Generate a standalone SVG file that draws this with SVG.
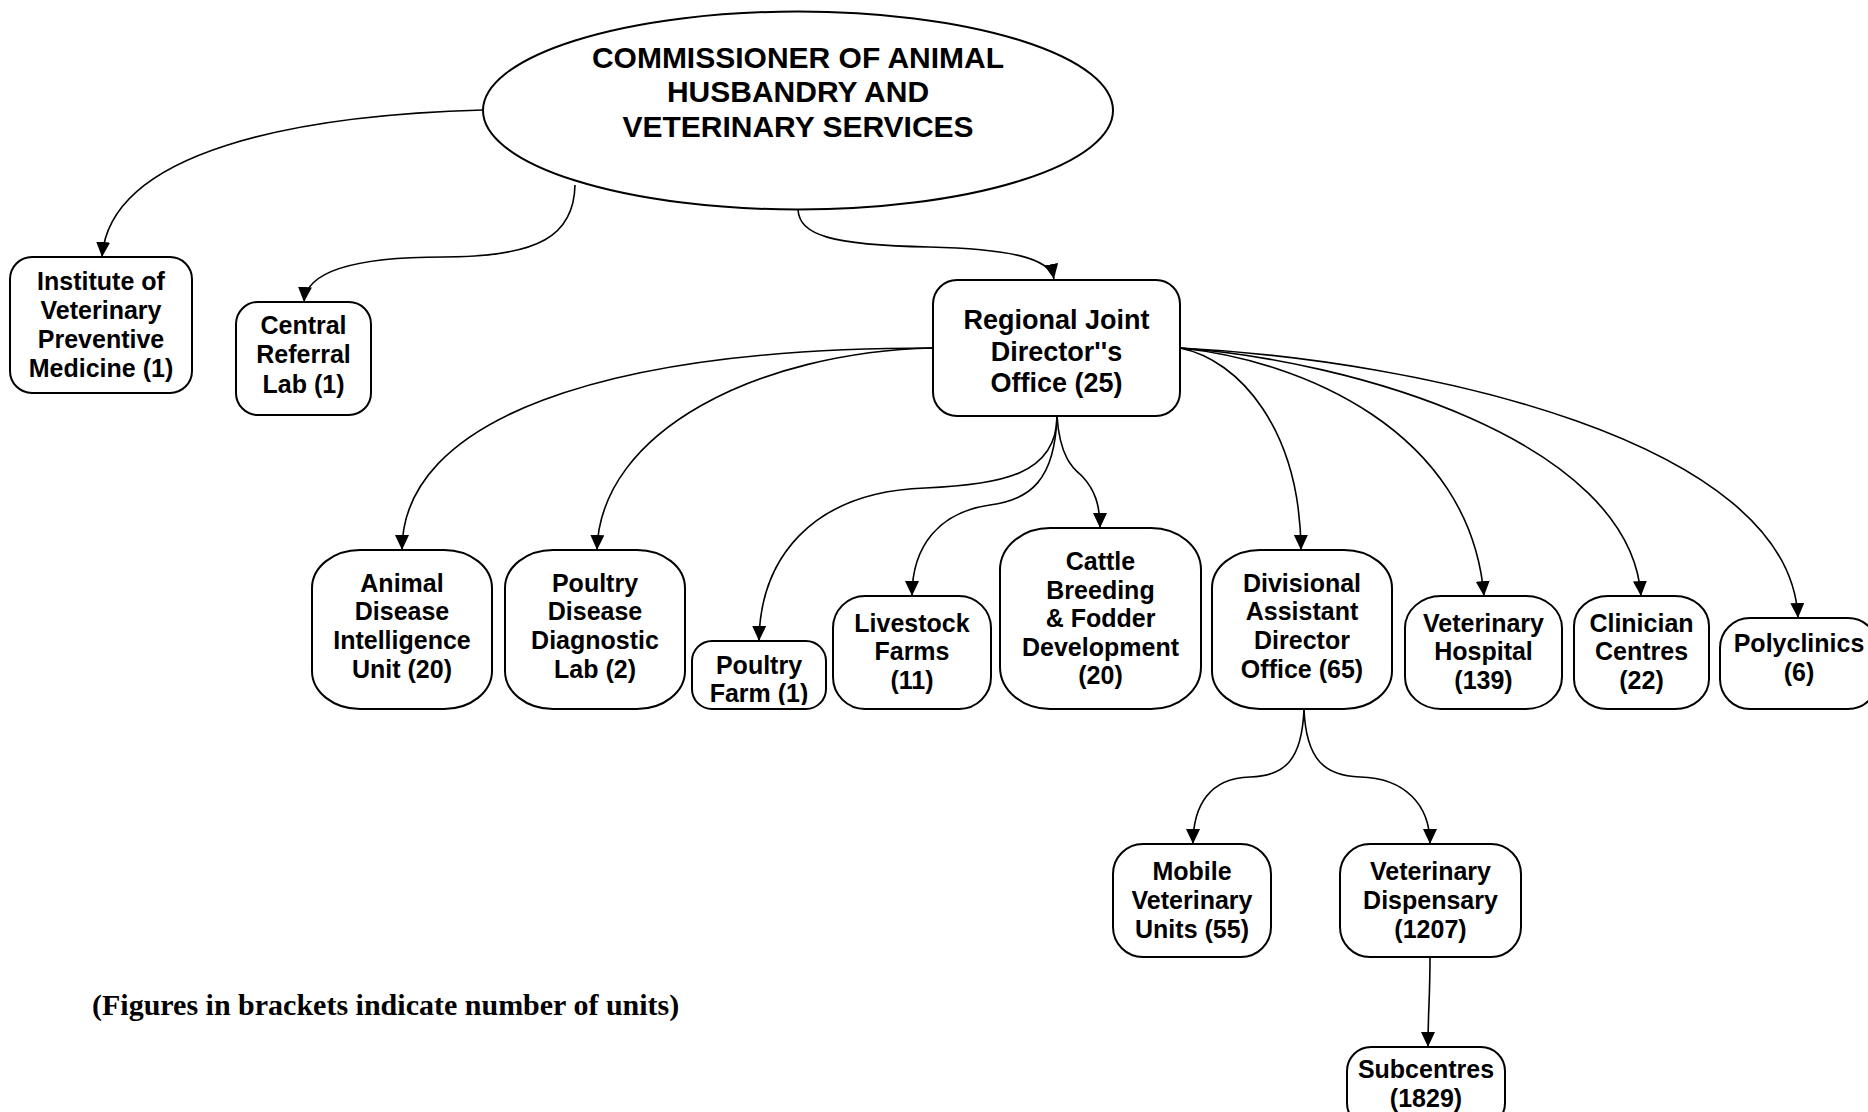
<svg xmlns="http://www.w3.org/2000/svg" width="1868" height="1112" viewBox="0 0 1868 1112">
<style>
.box{fill:#fff;stroke:#000;stroke-width:2}
.t{font-family:"Liberation Sans",Arial,sans-serif;font-weight:bold;font-size:25px;text-anchor:middle;fill:#000}
.big{font-size:27px}
.title{font-size:30px}
.note{font-family:"Liberation Serif","Times New Roman",serif;font-weight:bold;font-size:30px;fill:#000}
.c{fill:none;stroke:#000;stroke-width:1.6;marker-end:url(#arr)}
</style>
<defs>
<marker id="arr" markerUnits="userSpaceOnUse" markerWidth="16" markerHeight="16" refX="15" refY="7" orient="auto">
<path d="M0,0 L15,7 L0,14 z" fill="#000"/>
</marker>
<clipPath id="pfclip"><rect x="680" y="630" width="160" height="75"/></clipPath>
</defs>
<rect width="1868" height="1112" fill="#fff"/>
<g id="connectors">
<path class="c" d="M483,110 C300,115 110,150 102,257"/>
<path class="c" d="M575,185 C574,235 540,257 443,257 C360,257 306,270 304,302"/>
<path class="c" d="M798,210 C800,235 830,245 929,247 C1010,249 1050,258 1054,279"/>
<path class="c" d="M933,348 C600,348 402,420 402,550"/>
<path class="c" d="M933,348 C760,352 600,430 597,550"/>
<path class="c" d="M1057,416 C1057,475 1000,485 925,488 C810,492 760,560 759,641"/>
<path class="c" d="M1057,416 C1055,480 1030,500 990,505 C940,512 912,545 912,596"/>
<path class="c" d="M1057,416 C1060,460 1075,470 1082,476 C1095,490 1100,505 1100,528"/>
<path class="c" d="M1180,348 C1240,360 1300,430 1301,550"/>
<path class="c" d="M1180,348 C1300,360 1470,430 1484,596"/>
<path class="c" d="M1180,348 C1350,360 1630,440 1641,596"/>
<path class="c" d="M1180,348 C1420,360 1790,440 1798,618"/>
<path class="c" d="M1304,709 C1302,760 1285,776 1250,777 C1210,778 1193,805 1193,844"/>
<path class="c" d="M1304,709 C1306,760 1325,776 1360,777 C1405,778 1430,805 1430,844"/>
<path class="c" d="M1430,957 C1430,1000 1428,1010 1428,1047"/>
</g>
<g id="commissioner">
<ellipse class="box" cx="798" cy="110.5" rx="315" ry="99"/>
<text class="t title"><tspan x="798" y="68">COMMISSIONER OF ANIMAL</tspan><tspan x="798" y="102">HUSBANDRY AND</tspan><tspan x="798" y="136.5">VETERINARY SERVICES</tspan></text>
</g>
<g id="institute">
<rect class="box" x="10" y="257" width="182" height="136" rx="22"/>
<text class="t"><tspan x="101" y="290">Institute of</tspan><tspan x="101" y="319">Veterinary</tspan><tspan x="101" y="348">Preventive</tspan><tspan x="101" y="377">Medicine (1)</tspan></text>
</g>
<g id="central">
<rect class="box" x="236" y="302" width="135" height="113" rx="22"/>
<text class="t"><tspan x="303.5" y="334">Central</tspan><tspan x="303.5" y="363">Referral</tspan><tspan x="303.5" y="392.5">Lab (1)</tspan></text>
</g>
<g id="regional">
<rect class="box" x="933" y="280" width="247" height="136" rx="24"/>
<text class="t big"><tspan x="1056.5" y="329">Regional Joint</tspan><tspan x="1056.5" y="360.5">Director''s</tspan><tspan x="1056.5" y="391.5">Office (25)</tspan></text>
</g>
<g id="animal">
<rect class="box" x="312" y="550" width="180" height="159" rx="48" ry="38"/>
<text class="t"><tspan x="402" y="591.7">Animal</tspan><tspan x="402" y="620.3">Disease</tspan><tspan x="402" y="648.9">Intelligence</tspan><tspan x="402" y="677.5">Unit (20)</tspan></text>
</g>
<g id="poultryDisease">
<rect class="box" x="505" y="550" width="180" height="159" rx="48" ry="38"/>
<text class="t"><tspan x="595" y="591.7">Poultry</tspan><tspan x="595" y="620.3">Disease</tspan><tspan x="595" y="648.9">Diagnostic</tspan><tspan x="595" y="677.5">Lab (2)</tspan></text>
</g>
<g id="poultryFarm">
<rect class="box" x="692" y="641" width="134" height="68" rx="20"/>
<text class="t" clip-path="url(#pfclip)"><tspan x="759" y="673.5">Poultry</tspan><tspan x="759" y="701.5">Farm (1)</tspan></text>
</g>
<g id="livestock">
<rect class="box" x="833" y="596" width="158" height="113" rx="32"/>
<text class="t"><tspan x="912" y="631.7">Livestock</tspan><tspan x="912" y="660.3">Farms</tspan><tspan x="912" y="688.9">(11)</tspan></text>
</g>
<g id="cattle">
<rect class="box" x="1000" y="528" width="201" height="181" rx="50" ry="42"/>
<text class="t"><tspan x="1100.5" y="570">Cattle</tspan><tspan x="1100.5" y="598.6">Breeding</tspan><tspan x="1100.5" y="627.2">&amp; Fodder</tspan><tspan x="1100.5" y="655.8">Development</tspan><tspan x="1100.5" y="684.4">(20)</tspan></text>
</g>
<g id="divisional">
<rect class="box" x="1212" y="550" width="180" height="159" rx="48" ry="38"/>
<text class="t"><tspan x="1302" y="591.7">Divisional</tspan><tspan x="1302" y="620.3">Assistant</tspan><tspan x="1302" y="648.9">Director</tspan><tspan x="1302" y="677.5">Office (65)</tspan></text>
</g>
<g id="vetHospital">
<rect class="box" x="1405" y="596" width="157" height="113" rx="36" ry="32"/>
<text class="t"><tspan x="1483.5" y="631.7">Veterinary</tspan><tspan x="1483.5" y="660.3">Hospital</tspan><tspan x="1483.5" y="688.9">(139)</tspan></text>
</g>
<g id="clinician">
<rect class="box" x="1574" y="596" width="135" height="113" rx="34" ry="30"/>
<text class="t"><tspan x="1641.5" y="631.7">Clinician</tspan><tspan x="1641.5" y="660.3">Centres</tspan><tspan x="1641.5" y="688.9">(22)</tspan></text>
</g>
<g id="polyclinics">
<rect class="box" x="1720" y="618" width="158" height="91" rx="30"/>
<text class="t"><tspan x="1799" y="651.7">Polyclinics</tspan><tspan x="1799" y="680.5">(6)</tspan></text>
</g>
<g id="mobile">
<rect class="box" x="1113" y="844" width="158" height="113" rx="30"/>
<text class="t"><tspan x="1192" y="880">Mobile</tspan><tspan x="1192" y="909">Veterinary</tspan><tspan x="1192" y="937.5">Units (55)</tspan></text>
</g>
<g id="dispensary">
<rect class="box" x="1340" y="844" width="181" height="113" rx="30"/>
<text class="t"><tspan x="1430.5" y="880">Veterinary</tspan><tspan x="1430.5" y="909">Dispensary</tspan><tspan x="1430.5" y="937.5">(1207)</tspan></text>
</g>
<g id="subcentres">
<rect class="box" x="1347" y="1047" width="158" height="80" rx="24"/>
<text class="t"><tspan x="1426" y="1078">Subcentres</tspan><tspan x="1426" y="1107">(1829)</tspan></text>
</g>
<text class="note" x="92" y="1015">(Figures in brackets indicate number of units)</text>
</svg>
